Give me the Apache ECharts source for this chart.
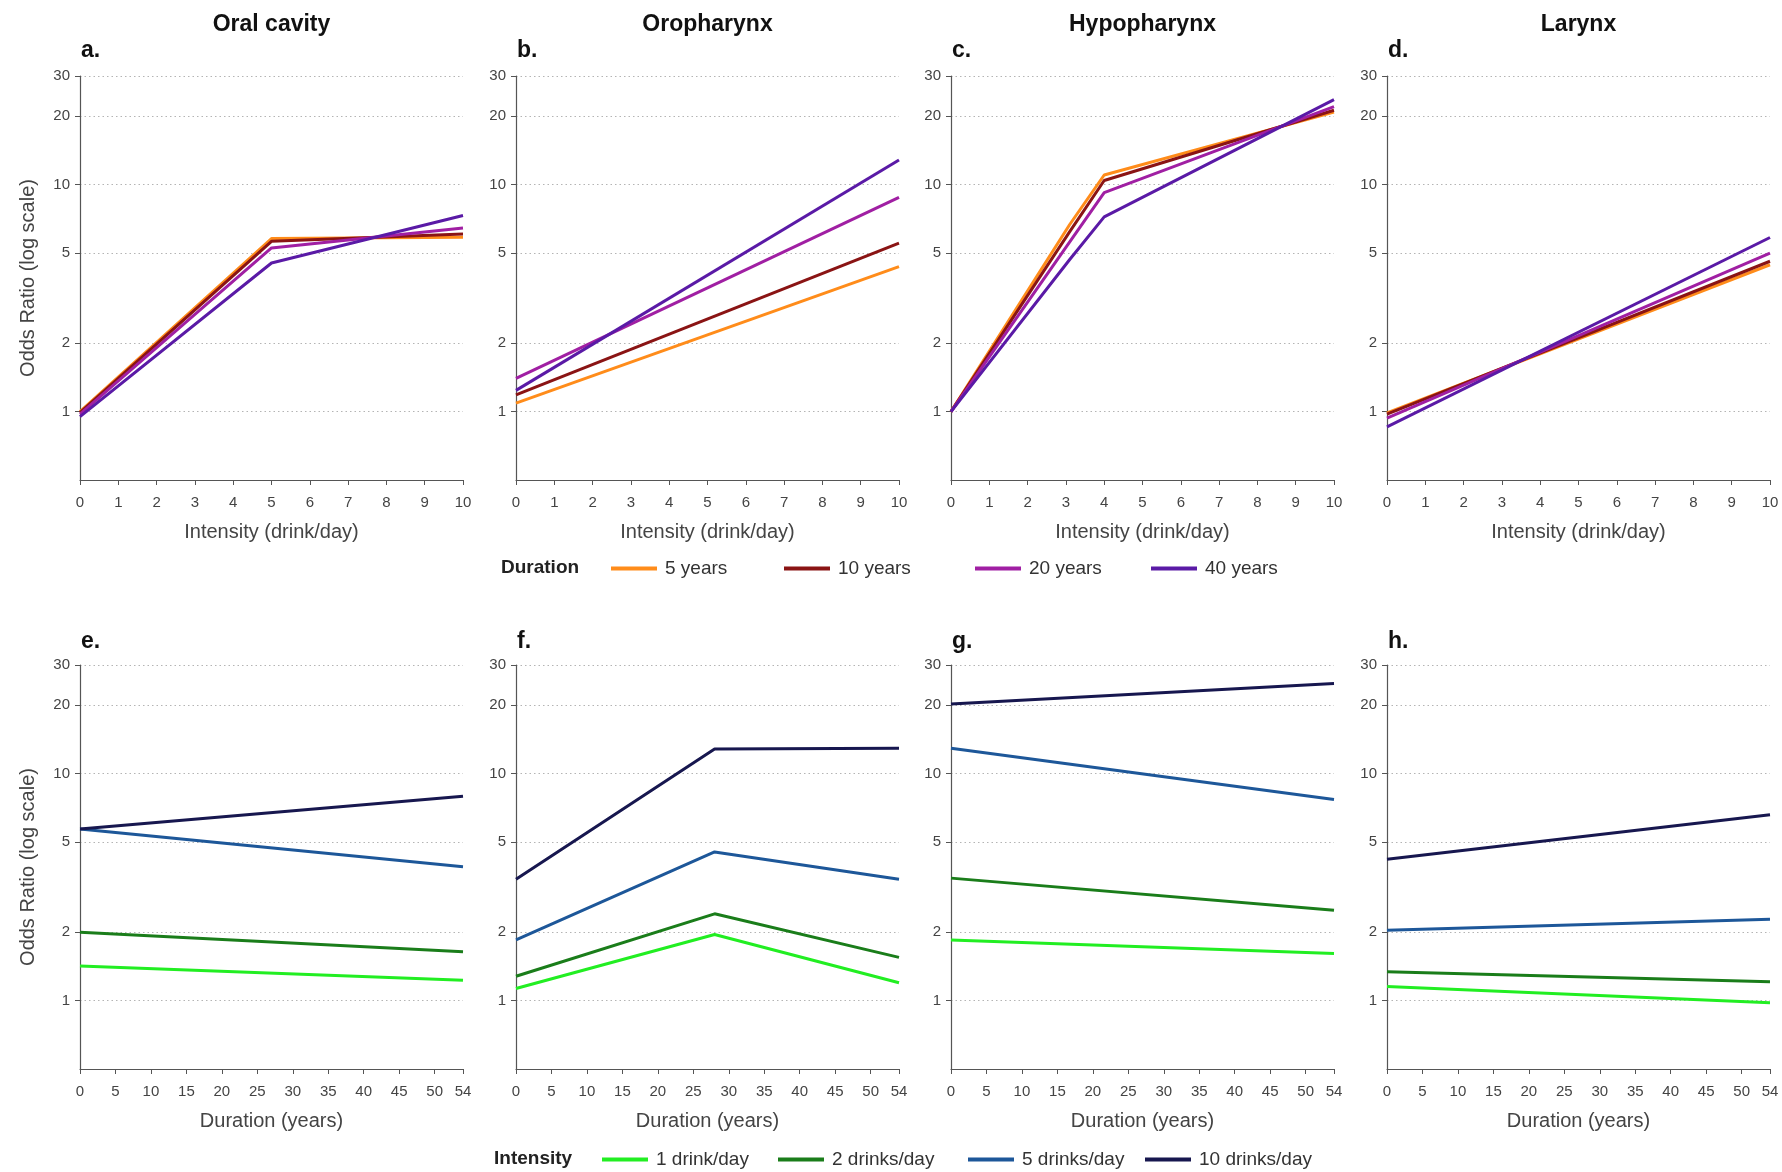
<!DOCTYPE html>
<html>
<head>
<meta charset="utf-8">
<script src="https://cdn.jsdelivr.net/npm/echarts@6/dist/echarts.min.js"></script>
<style>html,body{margin:0;padding:0;background:#fff}#c{width:1782px;height:1172px}</style>
</head>
<body>
<div id="c"></div>
<script>
// ---------- data ----------
const panelTitles = ['Oral cavity', 'Oropharynx', 'Hypopharynx', 'Larynx'];
const topLetters = ['a.', 'b.', 'c.', 'd.'];
const bottomLetters = ['e.', 'f.', 'g.', 'h.'];
const durationNames = ['5 years', '10 years', '20 years', '40 years'];
const intensityNames = ['1 drink/day', '2 drinks/day', '5 drinks/day', '10 drinks/day'];
const yTickValues = [1, 2, 5, 10, 20, 30];
const durationTickValues = [0, 5, 10, 15, 20, 25, 30, 35, 40, 45, 50, 54];

// Top row: OR by intensity (drinks/day), one row per duration (5,10,20,40 years)
const oralIntensityX = [0, 5, 10];
const oralIntensityOR = [[1.00, 5.78, 5.86], [0.99, 5.62, 6.05], [0.975, 5.25, 6.43], [0.95, 4.51, 7.3]];
const oroIntensityX = [0, 10];
const oroIntensityOR = [[1.09, 4.35], [1.185, 5.52], [1.40, 8.77], [1.24, 12.8]];
const hypoIntensityX = [0, 3.1, 4, 10];
const hypoIntensityOR = [[1.0, 6.66, 11.0, 20.8], [1.0, 6.2, 10.4, 21.2], [1.0, 5.58, 9.2, 22.0], [1.0, 4.67, 7.2, 23.6]];
const larIntensityX = [0, 10];
const larIntensityOR = [[0.986, 4.43], [0.975, 4.59], [0.935, 4.98], [0.856, 5.84]];

// Bottom row: OR by duration (years), one row per intensity (1,2,5,10 drinks/day)
const oralDurationX = [0, 54];
const oralDurationOR = [[1.42, 1.23], [2.0, 1.64], [5.69, 3.88], [5.69, 7.93]];
const oroDurationX = [0, 28, 54];
const oroDurationOR = [[1.13, 1.955, 1.198], [1.28, 2.41, 1.55], [1.85, 4.51, 3.42], [3.42, 12.8, 12.9]];
const hypoDurationX = [0, 54];
const hypoDurationOR = [[1.85, 1.61], [3.46, 2.5], [12.9, 7.67], [20.2, 24.9]];
const larDurationX = [0, 54];
const larDurationOR = [[1.154, 0.978], [1.34, 1.21], [2.04, 2.28], [4.19, 6.57]];

// ---------- styles ----------
const durationColors = ['#ff8c1a', '#8a1414', '#a01fa3', '#5a1aa6'];
const intensityColors = ['#22ee22', '#1a7d1a', '#1d5799', '#17174f'];
const FONT = '"Liberation Sans", Arial, sans-serif';
const gridLefts = [80, 516, 951, 1387];
const gridWidth = 383;
const rows = [{top: 76, height: 404}, {top: 665, height: 404}];

const topPanels = [[oralIntensityX, oralIntensityOR], [oroIntensityX, oroIntensityOR], [hypoIntensityX, hypoIntensityOR], [larIntensityX, larIntensityOR]];
const bottomPanels = [[oralDurationX, oralDurationOR], [oroDurationX, oroDurationOR], [hypoDurationX, hypoDurationOR], [larDurationX, larDurationOR]];

const grid = [], xAxis = [], yAxis = [], series = [], title = [], legend = [];

function makeY(idx, showName) {
  return {
    type: 'log', logBase: 10, gridIndex: idx, min: 0.5, max: 30,
    name: showName ? 'Odds Ratio (log scale)' : '',
    nameLocation: 'middle', nameGap: 42, nameRotate: 90,
    nameTextStyle: {fontFamily: FONT, fontSize: 20, color: '#444'},
    axisLine: {show: true, lineStyle: {color: '#555', width: 1.2}},
    axisTick: {show: true, length: 5, customValues: yTickValues, lineStyle: {color: '#555'}},
    axisLabel: {customValues: yTickValues, fontFamily: FONT, fontSize: 15, color: '#444', margin: 10},
    splitLine: {show: true, lineStyle: {color: '#b4b4b4', type: [1.5, 3], width: 1}},
    minorTick: {show: false}, minorSplitLine: {show: false}
  };
}

for (let r = 0; r < 2; r++) {
  for (let c = 0; c < 4; c++) {
    const idx = r * 4 + c;
    grid.push({left: gridLefts[c], width: gridWidth, top: rows[r].top, height: rows[r].height, containLabel: false});
    yAxis.push(makeY(idx, c === 0));
    if (r === 0) {
      xAxis.push({
        type: 'value', gridIndex: idx, min: 0, max: 10, interval: 1,
        name: 'Intensity (drink/day)', nameLocation: 'middle', nameGap: 42,
        nameTextStyle: {fontFamily: FONT, fontSize: 20, color: '#444'},
        axisLine: {show: true, onZero: false, lineStyle: {color: '#555', width: 1.2}},
        axisTick: {show: true, length: 5, lineStyle: {color: '#555'}},
        axisLabel: {fontFamily: FONT, fontSize: 15, color: '#444', margin: 15},
        splitLine: {show: false}
      });
    } else {
      xAxis.push({
        type: 'value', gridIndex: idx, min: 0, max: 54,
        name: 'Duration (years)', nameLocation: 'middle', nameGap: 42,
        nameTextStyle: {fontFamily: FONT, fontSize: 20, color: '#444'},
        axisLine: {show: true, onZero: false, lineStyle: {color: '#555', width: 1.2}},
        axisTick: {show: true, length: 5, customValues: durationTickValues, lineStyle: {color: '#555'}},
        axisLabel: {customValues: durationTickValues, fontFamily: FONT, fontSize: 15, color: '#444', margin: 15},
        splitLine: {show: false}
      });
    }
    const panel = r === 0 ? topPanels[c] : bottomPanels[c];
    const names = r === 0 ? durationNames : intensityNames;
    const colors = r === 0 ? durationColors : intensityColors;
    const xs = panel[0];
    panel[1].forEach((vals, k) => {
      series.push({
        type: 'line', name: names[k], xAxisIndex: idx, yAxisIndex: idx,
        data: xs.map((x, i) => [x, vals[i]]),
        showSymbol: false, symbol: 'none', silent: true, animation: false,
        color: colors[k],
        lineStyle: {color: colors[k], width: 3}
      });
    });
    title.push({
      text: r === 0 ? topLetters[c] : bottomLetters[c],
      left: gridLefts[c] + 1, top: r === 0 ? 39 : 630, padding: 0,
      textStyle: {fontFamily: FONT, fontSize: 23, fontWeight: 'bold', color: '#111'}
    });
  }
}
panelTitles.forEach((t, c) => {
  title.push({
    text: t, left: gridLefts[c] + gridWidth / 2, textAlign: 'center', top: 13, padding: 0,
    textStyle: {fontFamily: FONT, fontSize: 23, fontWeight: 'bold', color: '#111'}
  });
});
title.push({text: 'Duration', left: 501, top: 558, padding: 0,
  textStyle: {fontFamily: FONT, fontSize: 19, fontWeight: 'bold', color: '#222'}});
title.push({text: 'Intensity', left: 494, top: 1149, padding: 0,
  textStyle: {fontFamily: FONT, fontSize: 19, fontWeight: 'bold', color: '#222'}});

const topLegendLefts = [611, 784, 975, 1151];
const bottomLegendLefts = [602, 778, 968, 1145];
durationNames.forEach((n, k) => {
  legend.push({data: [n], left: topLegendLefts[k], top: 559, padding: 0, itemWidth: 46, itemHeight: 4, icon: 'rect',
    selectedMode: false, textStyle: {fontFamily: FONT, fontSize: 19, color: '#333', padding: [0, 0, 0, 3]}});
});
intensityNames.forEach((n, k) => {
  legend.push({data: [n], left: bottomLegendLefts[k], top: 1150, padding: 0, itemWidth: 46, itemHeight: 4, icon: 'rect',
    selectedMode: false, textStyle: {fontFamily: FONT, fontSize: 19, color: '#333', padding: [0, 0, 0, 3]}});
});

const chart = echarts.init(document.getElementById('c'), null, {renderer: 'canvas'});
chart.setOption({
  backgroundColor: '#fff', animation: false,
  title, legend, grid, xAxis, yAxis, series
});
</script>
</body>
</html>
